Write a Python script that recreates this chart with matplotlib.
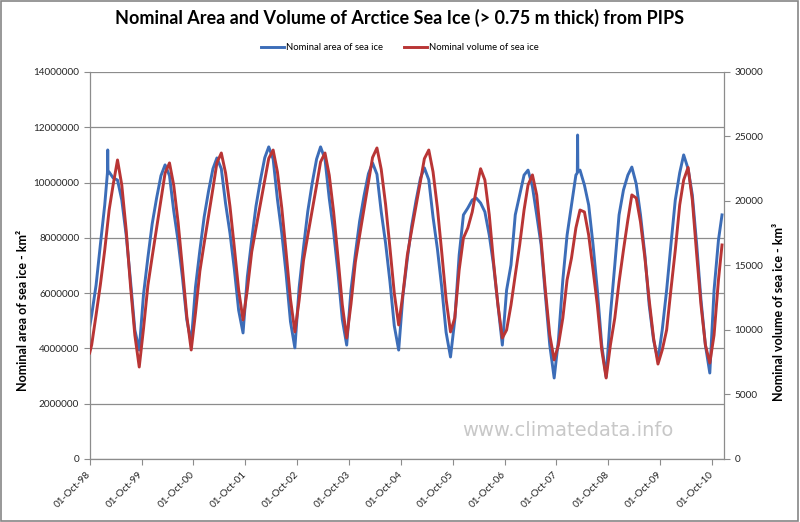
import numpy as np
import pandas as pd
import matplotlib
matplotlib.use("Agg")
import matplotlib.pyplot as plt
import matplotlib.dates as mdates
from matplotlib.ticker import FuncFormatter
from matplotlib.patches import Rectangle

# sample dates: 1 Oct 1998, the 15th of every month Oct-98 .. Nov-10, then 10 Dec 2010
mid_months = pd.date_range("1998-10-01", "2010-11-01", freq="MS") + pd.Timedelta(days=14)
dates = [pd.Timestamp("1998-10-01")] + list(mid_months) + [pd.Timestamp("2010-12-10")]

# nominal area of sea ice, million km2 (rows run Oct..Sep)
area_mkm2 = [
    4.78,
    5.21, 6.29, 7.74, 9.19, 10.38, 10.17, 10.09, 9.37, 8.10, 6.48, 4.67, 3.94,
    5.95, 7.29, 8.50, 9.43, 10.25, 10.64, 10.25, 8.97, 7.87, 6.58, 5.04, 4.20,
    6.21, 7.55, 8.75, 9.69, 10.50, 10.89, 10.50, 9.24, 8.17, 6.90, 5.38, 4.56,
    6.58, 7.93, 9.14, 10.08, 10.90, 11.29, 10.85, 9.40, 8.16, 6.71, 4.97, 4.02,
    6.20, 7.66, 8.96, 9.98, 10.85, 11.29, 10.85, 9.43, 8.21, 6.77, 5.05, 4.12,
    6.10, 7.42, 8.60, 9.52, 10.32, 10.71, 10.30, 8.95, 7.80, 6.44, 4.82, 3.94,
    5.92, 7.24, 8.42, 9.34, 10.15, 10.53, 10.10, 8.75, 7.59, 6.22, 4.58, 3.69,
    5.03, 7.38, 8.83, 9.08, 9.37, 9.44, 9.26, 8.94, 8.10, 7.02, 5.57, 4.12,
    6.11, 7.02, 8.83, 9.55, 10.27, 10.45, 9.85, 8.83, 7.74, 5.93, 4.12, 2.93,
    4.30, 6.48, 8.10, 9.19, 10.27, 10.45, 9.91, 9.19, 7.74, 6.11, 4.12, 2.97,
    5.21, 7.02, 8.83, 9.73, 10.27, 10.56, 9.95, 8.83, 7.38, 5.57, 4.30, 3.58,
    4.67, 6.11, 7.74, 9.37, 10.35, 11.00, 10.50, 9.55, 7.74, 5.75, 4.12, 3.11,
    6.11, 7.92, 8.83,
]

# short spikes in the area record
area_spike_dates = ["1999-02-03", "1999-02-05", "1999-02-07",
                    "2008-02-25", "2008-02-27", "2008-02-29"]
area_spike_mkm2 = [10.35, 11.18, 10.35, 10.35, 11.72, 10.40]

# nominal volume of sea ice, km3
volume_km3 = [
    8220,
    8840, 11160, 13490, 16200, 19300, 21240, 23180, 21240, 17750, 13490, 9610, 7130,
    10100, 13460, 15670, 17890, 20100, 22160, 22950, 21210, 18310, 14830, 11060, 8450,
    11300, 14560, 16700, 18830, 20970, 22960, 23720, 22170, 19580, 16470, 13110, 10780,
    13100, 16050, 17890, 19740, 21580, 23300, 23950, 22260, 19440, 16050, 12390, 9850,
    12300, 15400, 17340, 19280, 21220, 23030, 23720, 22000, 19130, 15690, 11960, 9380,
    12000, 15270, 17330, 19400, 21460, 23370, 24110, 22460, 19720, 16430, 12860, 10390,
    12800, 15810, 17710, 19610, 21510, 23280, 23950, 22260, 19440, 16050, 12390, 9850,
    10930, 14650, 17130, 17910, 19150, 20850, 22500, 21630, 18920, 15270, 11940, 9380,
    10000, 11940, 14260, 16590, 19300, 21240, 22020, 20470, 16980, 13100, 9610, 7680,
    8840, 10930, 13880, 15580, 17910, 19300, 19150, 17360, 14650, 11940, 8450, 6280,
    8840, 10930, 13720, 16200, 18530, 20470, 20230, 18370, 15580, 12330, 9380, 7360,
    8450, 10000, 13100, 16200, 19690, 21630, 22600, 20080, 15810, 11940, 8840, 7440,
    9610, 13880, 16590,
]

tick_years = list(range(1998, 2011))

blue = "#3C6DB8"
red = "#B93535"
grey = "#8C8C8C"
txt = "#262626"
font = ["Lato", "DejaVu Sans"]
plt.rcParams["font.family"] = font

area = pd.concat([
    pd.Series(area_mkm2, index=dates),
    pd.Series(area_spike_mkm2, index=pd.to_datetime(area_spike_dates)),
]).sort_index() * 1e6
volume = pd.Series(volume_km3, index=dates)

fig = plt.figure(figsize=(8, 5.22), dpi=100)
ax = fig.add_axes([0.1121, 0.1207, 0.7929, 0.7414])
ax2 = ax.twinx()

ln1, = ax.plot(area.index, area.values, color=blue, lw=2.1, solid_joinstyle="round")
ln2, = ax2.plot(volume.index, volume.values, color=red, lw=2.1, solid_joinstyle="round")

ax.set_xlim(pd.Timestamp("1998-10-01"), pd.Timestamp("2010-12-24"))
ax.set_ylim(0, 14e6)
ax.set_yticks(np.arange(0, 14e6 + 1, 2e6))
ax.yaxis.set_major_formatter(FuncFormatter(lambda v, p: f"{v:.0f}"))
ax2.set_ylim(0, 30000)
ax2.set_yticks(np.arange(0, 30001, 5000))

ax.set_xticks([pd.Timestamp(f"{y}-10-01") for y in tick_years])
ax.xaxis.set_major_formatter(mdates.DateFormatter("%d-%b-%y"))
for lab in ax.get_xticklabels():
    lab.set_rotation(45)
    lab.set_ha("right")
    lab.set_va("center")
    lab.set_rotation_mode("anchor")

ax.grid(axis="y", color=grey, lw=0.9)
ax.set_axisbelow(True)

for a in (ax, ax2):
    a.tick_params(direction="out", length=4, width=0.8, color=grey,
                  labelsize=7.2, labelcolor=txt)
    for s in a.spines.values():
        s.set_color(grey)
        s.set_linewidth(0.9)
    a.spines["top"].set_visible(False)
ax.spines["right"].set_visible(False)
ax2.spines["left"].set_visible(False)
ax2.spines["bottom"].set_visible(False)
ax.tick_params(axis="x", pad=6)

fig.text(0.5, 1 - 18 / 522, "Nominal Area and Volume of Arctice Sea Ice (> 0.75 m thick) from PIPS",
         ha="center", va="center", fontsize=13, fontweight="bold", color="black")
fig.legend([ln1, ln2], ["Nominal area of sea ice", "Nominal volume of sea ice"],
           loc="center", bbox_to_anchor=(0.5, 1 - 48 / 522), ncol=2, frameon=False,
           fontsize=6.8, handlelength=2.4, columnspacing=2.3, handletextpad=0.2)

fig.text(23 / 800, 1 - 310 / 522, "Nominal area of sea ice - km²", rotation=90,
         ha="center", va="center", fontsize=9, fontweight="bold", color="black")
fig.text(779 / 800, 1 - 312 / 522, "Nominal volume of sea ice - km³", rotation=90,
         ha="center", va="center", fontsize=9, fontweight="bold", color="black")

fig.text(568 / 800, 1 - 430 / 522, "www.climatedata.info", ha="center", va="center",
         fontsize=14, color="#C8C8C8", family=["DejaVu Sans"])

fig.add_artist(Rectangle((0.001, 0.001), 0.997, 0.997, transform=fig.transFigure,
                         fill=False, edgecolor="#868686", lw=1.2))

fig.savefig("out.png", dpi=100)
